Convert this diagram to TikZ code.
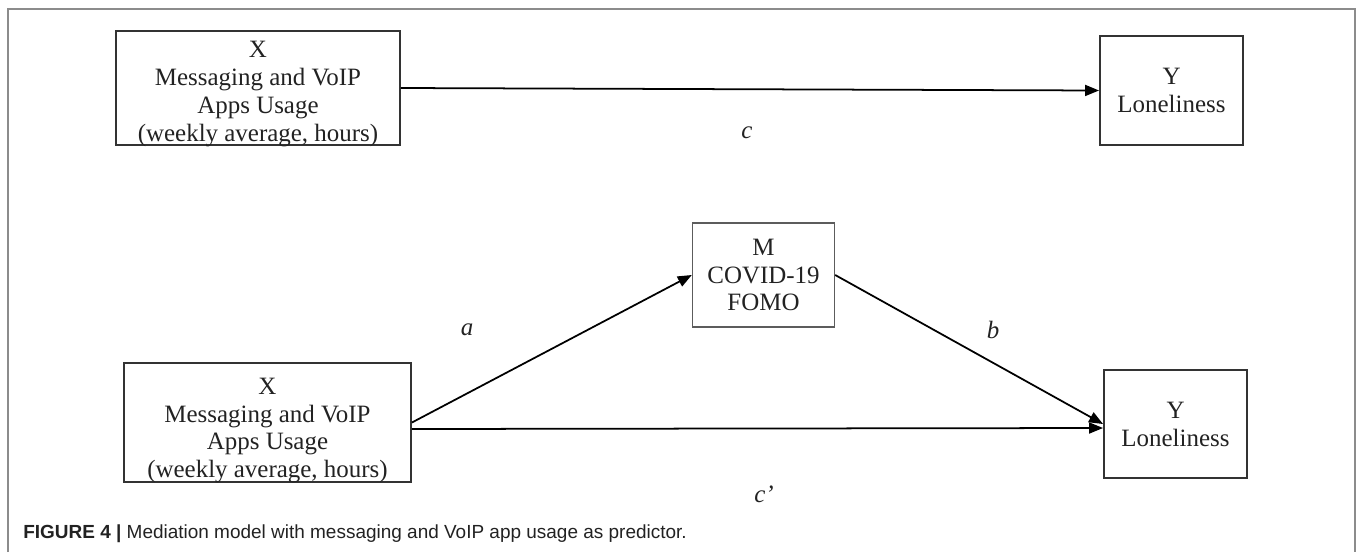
\documentclass[tikz,border=0pt]{standalone}
\usepackage{fontspec}
\setmainfont{Liberation Serif}
\newfontfamily\capfont{Liberation Sans}
\usetikzlibrary{arrows.meta}

\definecolor{framegray}{HTML}{8C8C8C}
\definecolor{boxgray}{HTML}{333333}
\definecolor{inkgray}{HTML}{222222}

\tikzset{
  varbox/.style={draw=boxgray, line width=1.1pt, align=center, text=inkgray,
    inner sep=0pt, font=\fontsize{14.2}{15.9}\selectfont},
  boxtext/.style={align=center, text=inkgray, inner sep=0pt,
    font=\fontsize{14.2}{15.9}\selectfont, yshift=-0.12cm},
  effect/.style={draw=black, line width=1pt,
    -{Triangle[length=0.28cm,width=0.22cm]}},
  coef/.style={font=\fontsize{14.2}{15.9}\selectfont\itshape, text=inkgray},
}

\begin{document}
\begin{tikzpicture}[x=0.02cm, y=-0.02cm]
            \useasboundingbox (0,0) rectangle (1357,552);
            \draw [framegray, line width=0.9pt] (8,552) -- (8,9) -- (1355,9) -- (1355,552);
            % total effect
            \node [varbox, minimum width=5.68cm, minimum height=2.28cm,
              label={[boxtext]center:X\\Messaging and VoIP\\Apps Usage\\(weekly average, hours)}] (x1) at (258,88) {};
            \node [varbox, minimum width=2.86cm, minimum height=2.18cm] (y1) at (1171.5,90.5) {Y\\Loneliness};
            \draw [effect] (x1.east) -- (y1.west);
            \node [coef] (lc) at (747,133) {c};
            % mediation
            \node [varbox, minimum width=5.74cm, minimum height=2.38cm,
              label={[boxtext, yshift=-0.04cm]center:X\\Messaging and VoIP\\Apps Usage\\(weekly average, hours)}] (x2) at (267.5,422.5) {};
            \node [varbox, draw=boxgray!80, line width=0.8pt, minimum width=2.84cm, minimum height=2.08cm] (m) at (763.5,275) {M\\COVID-19\\FOMO};
            \node [varbox, minimum width=2.86cm, minimum height=2.16cm] (y2) at (1175.5,424) {Y\\Loneliness};
            \draw [effect] (x2.east) -- (m.west);
            \draw [effect] (m.east) -- (y2.west);
            \draw [effect] ([yshift=-0.13cm]x2.east) -- ([yshift=-0.08cm]y2.west);
            \node [coef] (la) at (467,330) {a};
            \node [coef] (lb) at (993,330) {b};
            \node [coef] (lcp) at (764,494) {c’};
            % caption
            \node [anchor=base west, inner sep=0pt, text=inkgray, font=\capfont\fontsize{10.8}{13}\selectfont] (cap) at (23,538) {\textbf{FIGURE 4 |} Mediation model with messaging and VoIP app usage as predictor.};
        \end{tikzpicture}
\end{document}
